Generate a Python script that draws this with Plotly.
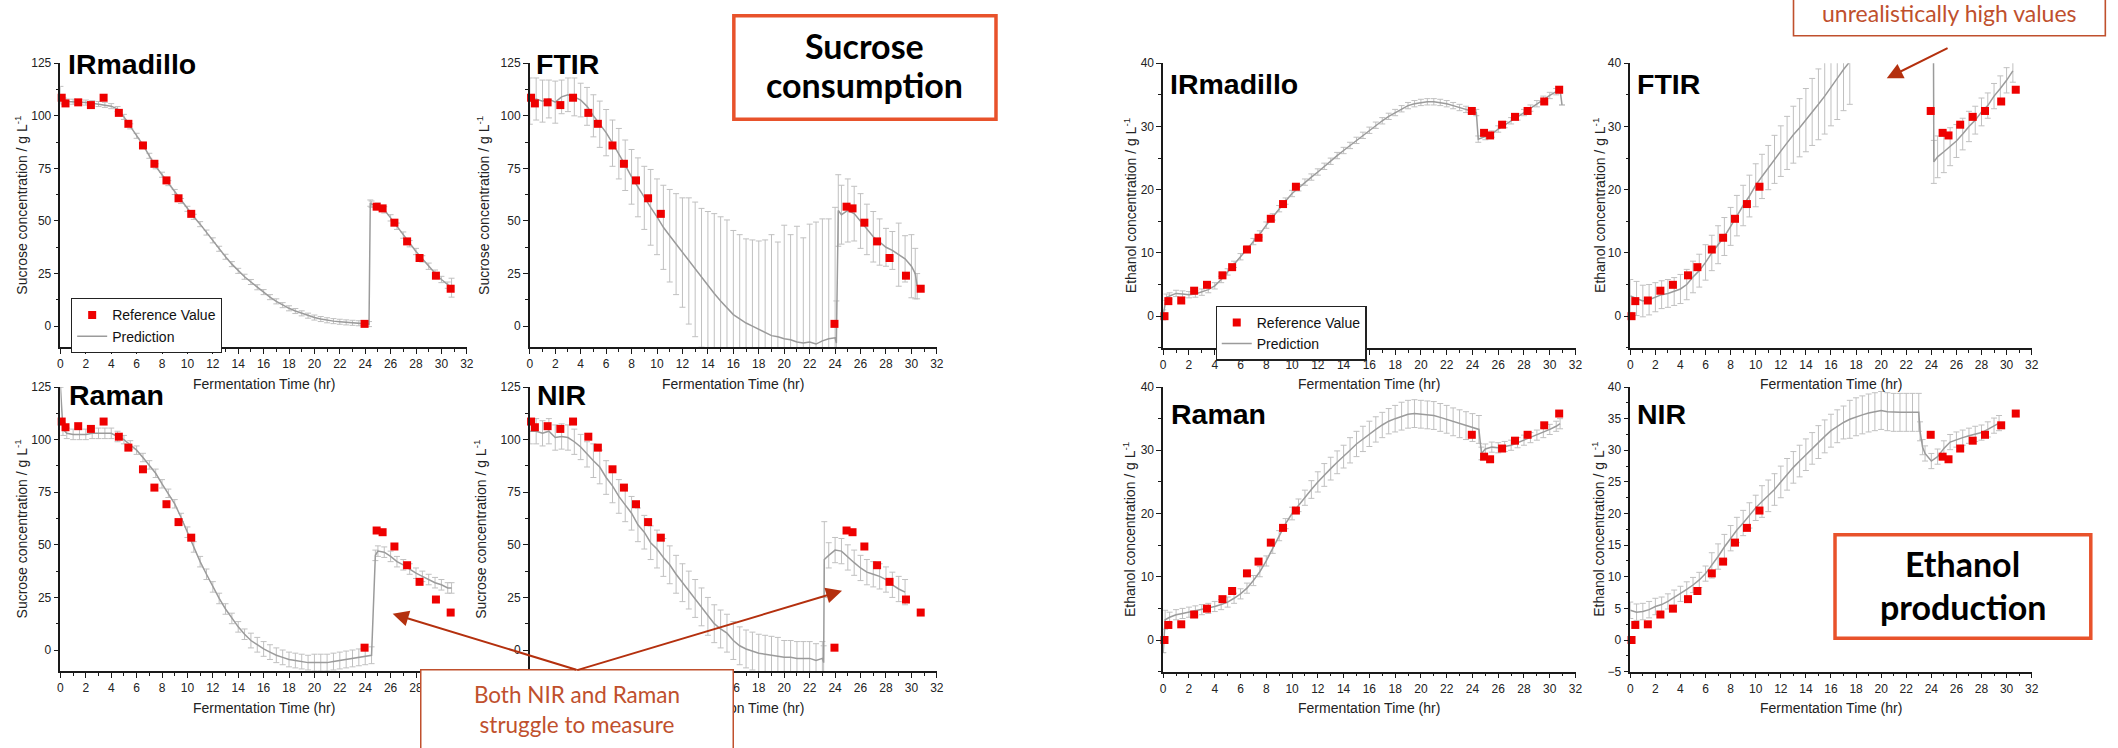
import plotly.graph_objects as go

# ---------------- data ----------------
ref_time = [0.1, 0.4, 1.4, 2.4, 3.4, 4.6, 5.35, 6.5, 7.4, 8.35, 9.3, 10.3,
            23.95, 24.9, 25.37, 26.3, 27.3, 28.28, 29.57, 30.73]
ref_sucrose = [108.6, 105.9, 106.4, 105.1, 108.6, 101.4, 96.2, 85.9, 77.2, 69.3, 60.8, 53.4,
               1.1, 56.8, 56.0, 49.2, 40.3, 32.4, 24.0, 17.8]
ref_ethanol = [0.0, 2.38, 2.48, 4.03, 4.96, 6.46, 7.75, 10.54, 12.4, 15.4, 17.73, 20.47,
               32.45, 28.99, 28.58, 30.28, 31.52, 32.45, 33.95, 35.81]

x_ticks_all = [0, 2, 4, 6, 8, 10, 12, 14, 16, 18, 20, 22, 24, 26, 28, 30, 32]
x_ticks_visible_nir = [16, 18, 20, 22, 24, 26, 28, 30, 32]   # 0-14 are hidden by the callout box

# Sucrose - IRmadillo
suc_irm_t = [0, 0.25, 0.5, 1, 1.5, 2, 2.5, 3, 3.5, 4, 4.5, 5, 5.5, 6, 6.5, 7, 7.5, 8, 8.5, 9, 9.5,
             10, 10.5, 11, 11.5, 12, 12.5, 13, 13.5, 14, 14.5, 15, 15.5, 16, 16.5, 17, 17.5, 18,
             18.5, 19, 19.5, 20, 20.5, 21, 21.5, 22, 22.5, 23, 23.5, 24, 24.3, 24.4, 24.5, 25,
             25.5, 26, 26.5, 27, 27.5, 28, 28.5, 29, 29.5, 30, 30.5, 30.8]
suc_irm_y = [110, 107, 106.8, 106.7, 106.5, 106.3, 106, 105.6, 105.2, 104.6, 103.2, 99.5, 95, 90.5,
             86.2, 81, 76, 72, 68, 63.8, 59.5, 55.8, 52, 48.5, 44.5, 40.8, 36.8, 33, 29.5, 26.3,
             23.5, 21, 18.5, 16.2, 13.8, 11.8, 10, 8.5, 7.2, 6.1, 5, 4.1, 3.4, 2.8, 2.4, 2.1, 1.8,
             1.6, 1.4, 1.2, 1.0, 58.5, 58, 57, 55.3, 51.5, 47.5, 43.3, 39.2, 35.5, 32.0, 28.5,
             25.2, 22.2, 19.5, 18.3]
suc_irm_e = [4, 1.5, 1.2, 1.2, 1.2, 1.2, 1.2, 1.2, 1.2, 1.2, 1.2, 1.2, 1.2, 1.2, 1.2, 1.2, 1.2,
             1.2, 1.2, 1.2, 1.2, 1.2, 1.2, 1.2, 1.2, 1.2, 1.2, 1.2, 1.2, 1.2, 1.2, 1.2, 1.2, 1.2,
             1.2, 1.2, 1.2, 1.2, 1.2, 1.2, 1.2, 1.2, 1.2, 1.2, 1.2, 1.2, 1.2, 1.2, 1.2, 1.2, 1.2,
             1.5, 1.5, 1.5, 1.5, 1.5, 1.5, 1.5, 1.5, 1.5, 1.5, 1.5, 1.5, 1.5, 1.5, 4.5]

# Sucrose - FTIR
suc_ftir_t = [0, 0.5, 1, 1.5, 2, 2.5, 3, 3.5, 4, 4.5, 5, 5.5, 6, 6.5, 7, 7.5, 8, 8.5, 9, 9.5,
              10, 10.5, 11, 11.5, 12, 12.5, 13, 13.5, 14, 14.5, 15, 15.5, 16, 16.5, 17, 17.5, 18,
              18.5, 19, 19.5, 20, 20.5, 21, 21.5, 22, 22.5, 23, 23.5, 24, 24.1, 24.25, 24.5, 25,
              25.5, 26, 26.5, 27, 27.5, 28, 28.5, 29, 29.5, 30, 30.3, 30.45]
suc_ftir_y = [107, 108, 107, 108, 106.5, 109, 110, 109, 107.5, 104.5, 100, 96, 92, 87, 82, 76.5,
              71, 66, 61, 56.5, 52, 47, 43, 39, 35, 31, 27, 23, 19.5, 15.5, 12, 8.5, 5.5, 3.5,
              1.5, 0, -1.5, -3, -4.5, -5, -6, -6.5, -7.5, -8, -7.5, -8.5, -7, -6, -5.5, -8, 55,
              53, 55, 53.5, 50, 46, 42.5, 40, 37.5, 36, 34, 32, 28.5, 25, 19]
suc_ftir_e = [11, 10, 10, 9, 10, 8, 8, 9, 8, 9, 10, 11, 11, 11, 12, 12, 13, 14, 15, 18,
              18, 20, 22, 24, 26, 30, 32, 33, 35, 38, 40, 42, 40, 40, 40, 41, 42, 44, 48, 45,
              54, 50, 55, 50, 56, 58, 58, 57, 62, 20, 17, 14, 15, 13, 13, 12, 12, 11, 9, 9,
              15, 11, 15, 12, 6]

# Sucrose - Raman
suc_ram_t = [0, 0.2, 0.5, 1, 1.5, 2, 2.5, 3, 3.5, 4, 4.5, 5, 5.5, 6, 6.5, 7, 7.5, 8, 8.5, 9,
             9.5, 10, 10.5, 11, 11.5, 12, 12.5, 13, 13.5, 14, 14.5, 15, 15.5, 16, 16.5, 17,
             17.5, 18, 18.5, 19, 19.5, 20, 20.5, 21, 21.5, 22, 22.5, 23, 23.5, 24, 24.5, 24.8,
             25, 25.5, 26, 26.5, 27, 27.5, 28, 28.5, 29, 29.5, 30, 30.5, 30.8]
suc_ram_y = [125, 105, 103, 102.5, 102.5, 102.5, 103, 103, 103, 103, 101.5, 100, 97.5, 95, 91.5,
             88, 84, 79, 74.5, 69.5, 63, 56, 49, 42, 36, 30, 24.5, 19.5, 15, 11, 7.5, 4.5, 2.5,
             0.5, -1, -2.5, -3.5, -4.5, -5, -5.5, -6, -6, -6, -6, -5.5, -5, -4.5, -4, -3.5, -3,
             -2.5, 45, 47, 46.5, 44.5, 42, 40.5, 38.5, 36.5, 35, 33.5, 32, 31, 29.5, 29.5]
suc_ram_e = [0, 3, 2.5, 2.5, 2.5, 2.5, 2.5, 2.5, 2.5, 2.5, 2.5, 2, 2, 2, 2, 2, 2, 2, 2, 2, 2,
             2.5, 2.5, 2.5, 2.5, 2.5, 2.5, 2.5, 2.5, 2.5, 2.5, 3.5, 3.5, 3.5, 3.5, 3.5, 3.5, 3.5,
             3.5, 3.5, 3.5, 4, 4, 4, 4, 4, 4, 4, 4, 4, 4, 2.5, 2.5, 2.5, 2.5, 2.5, 2.5, 2.5, 2.5,
             2.5, 2.5, 2.5, 2.5, 2.5, 2.5]

# Sucrose - NIR
suc_nir_t = [0, 0.5, 1, 1.5, 2, 2.5, 3, 3.5, 4, 4.5, 5, 5.5, 6, 6.5, 7, 7.5, 8, 8.5, 9, 9.5,
             10, 10.5, 11, 11.5, 12, 12.5, 13, 13.5, 14, 14.5, 15, 15.5, 16, 16.5, 17, 17.5, 18,
             18.5, 19, 19.5, 20, 20.5, 21, 21.5, 22, 22.5, 23, 23.1, 23.15, 23.5, 24, 24.5, 25,
             25.5, 26, 26.5, 27, 27.5, 28, 28.5, 29, 29.5]
suc_nir_y = [104, 104, 103, 104, 101, 101.5, 101, 99, 96.5, 93, 90, 87, 82, 78, 73, 69, 65,
             59.5, 56, 51, 48, 44, 40.5, 36, 32, 28.5, 24.5, 20.5, 16, 12.5, 10, 8, 4.5, 2, 0.5,
             -0.5, -1.5, -2, -2.5, -3, -3.5, -3.5, -4, -4, -4, -5, -4, -6, 43, 45, 47.5, 47, 44,
             41.5, 39, 37, 36, 35, 33.5, 31, 29, 27.5]
suc_nir_e = [6, 6, 6, 6, 6, 6, 6, 6, 6, 6, 8, 8, 8, 8, 8, 8, 8, 8, 8, 8, 9, 9, 9, 9, 9, 9, 9,
             9, 9, 9, 9, 9, 9, 9, 9, 9, 9, 9, 9, 9, 8, 8, 8, 8, 8, 8, 8, 8, 18, 6, 6, 6, 6, 6,
             6, 6, 6, 6, 6, 6, 6, 6]

# Ethanol - IRmadillo
eth_irm_t = [0, 0.25, 0.5, 1, 1.5, 2, 2.5, 3, 3.5, 4, 4.5, 5, 5.5, 6, 6.5, 7, 7.5, 8, 8.5, 9,
             9.5, 10, 10.5, 11, 11.5, 12, 12.5, 13, 13.5, 14, 14.5, 15, 15.5, 16, 16.5, 17,
             17.5, 18, 18.5, 19, 19.5, 20, 20.5, 21, 21.5, 22, 22.5, 23, 23.5, 24, 24.3, 24.45,
             25, 25.5, 26, 26.5, 27, 27.5, 28, 28.5, 29, 29.5, 30, 30.5, 30.8, 30.95]
eth_irm_y = [0.2, 3.0, 3.2, 3.6, 3.5, 3.4, 3.5, 3.8, 4.2, 4.8, 5.8, 7.0, 8.2, 9.4, 10.6, 11.8,
             13.0, 14.4, 15.7, 17.0, 18.2, 19.4, 20.3, 21.2, 22.0, 22.8, 23.7, 24.5, 25.4, 26.2,
             27.0, 27.8, 28.6, 29.4, 30.2, 30.9, 31.6, 32.2, 32.8, 33.3, 33.6, 33.8, 33.9, 33.9,
             33.8, 33.6, 33.3, 33.0, 32.7, 32.5, 32.2, 28.0, 28.4, 28.8, 29.6, 30.3, 30.9, 31.5,
             32.2, 32.9, 33.6, 34.3, 34.9, 35.5, 35.8, 33.4]
eth_irm_e = [0.8, 0.5, 0.5, 0.5, 0.5, 0.5, 0.5, 0.5, 0.5, 0.5, 0.5, 0.5, 0.5, 0.5, 0.5, 0.5,
             0.5, 0.5, 0.5, 0.5, 0.5, 0.5, 0.5, 0.5, 0.5, 0.5, 0.5, 0.5, 0.5, 0.5, 0.5, 0.5,
             0.5, 0.5, 0.5, 0.5, 0.5, 0.5, 0.5, 0.5, 0.5, 0.5, 0.5, 0.5, 0.5, 0.5, 0.5, 0.5,
             0.5, 0.5, 0.5, 0.5, 0.5, 0.5, 0.5, 0.5, 0.5, 0.5, 0.5, 0.5, 0.5, 0.5, 0.5, 0.5,
             0.5, 0]

# Ethanol - FTIR
eth_ftir_t = [0, 0.5, 1, 1.5, 2, 2.5, 3, 3.5, 4, 4.5, 5, 5.5, 6, 6.5, 7, 7.5, 8, 8.5, 9, 9.5,
              10, 10.5, 11, 11.5, 12, 12.5, 13, 13.5, 14, 14.5, 15, 15.5, 16, 16.5, 17, 17.5,
              18, 18.5, 19, 19.5, 20, 20.5, 21, 21.5, 22, 22.5, 23, 23.5, 24, 24.15, 24.2, 24.5,
              25, 25.5, 26, 26.5, 27, 27.5, 28, 28.5, 29, 29.5, 30, 30.5]
eth_ftir_y = [3.2, 2.8, 2.4, 2.6, 3.0, 3.4, 3.6, 3.9, 4.3, 5.0, 6.2, 7.2, 8.5, 10.0, 11.3, 12.6,
              14.2, 15.9, 17.5, 19.0, 20.7, 22.1, 23.5, 24.8, 26.1, 27.4, 28.7, 29.8, 31.0, 32.3,
              33.5, 34.8, 36.3, 37.6, 39.0, 40.3, 41.5, 42.7, 44.0, 45.0, 46.0, 47.0, 48.0, 49.0,
              50.0, 51.0, 52.0, 53.0, 54.0, 54.5, 24.4, 25.2, 26.0, 26.8, 27.7, 28.8, 30.0, 31.0,
              32.3, 33.3, 34.8, 36.0, 37.3, 38.8]
eth_ftir_e = [2.6, 2.7, 2.5, 2.4, 2.3, 2.2, 2.2, 2.2, 2.3, 2.4, 2.5, 2.6, 2.8, 2.8, 3.0, 3.0,
              3.0, 3.2, 3.2, 3.3, 3.4, 3.5, 3.5, 3.8, 4.0, 4.2, 4.5, 4.6, 5.0, 5.3, 5.6, 6.0,
              6.2, 6.5, 6.5, 6.8, 1.0, 1.0, 1.0, 1.0, 1.0, 1.0, 1.0, 1.0, 1.0, 1.0, 1.0, 1.0,
              1.0, 1.0, 3.4, 3.3, 3.3, 3.0, 2.6, 2.5, 2.4, 2.2, 2.2, 2.0, 2.0, 2.0, 2.0, 1.8]

# Ethanol - Raman
eth_ram_t = [0, 0.15, 0.5, 1, 1.5, 2, 2.5, 3, 3.5, 4, 4.5, 5, 5.5, 6, 6.5, 7, 7.5, 8, 8.5, 9,
             9.5, 10, 10.5, 11, 11.5, 12, 12.5, 13, 13.5, 14, 14.5, 15, 15.5, 16, 16.5, 17,
             17.5, 18, 18.5, 19, 19.5, 20, 20.5, 21, 21.5, 22, 22.5, 23, 23.5, 24, 24.5, 24.7,
             25, 25.5, 26, 26.5, 27, 27.5, 28, 28.5, 29, 29.5, 30, 30.5, 30.8]
eth_ram_y = [-2.0, 3.2, 3.6, 4.0, 4.2, 4.4, 4.6, 4.8, 5.0, 5.3, 5.6, 6.0, 6.6, 7.3, 8.2, 9.4,
             10.8, 12.5, 14.5, 16.5, 18.4, 20.0, 21.3, 22.5, 23.8, 25.0, 26.1, 27.1, 28.1, 29.0,
             30.0, 31.0, 31.8, 32.6, 33.3, 34.0, 34.6, 35.0, 35.4, 35.7, 35.8, 35.7, 35.6, 35.5,
             35.2, 34.9, 34.5, 34.2, 33.9, 33.6, 33.3, 29.5, 30.2, 30.5, 30.4, 30.6, 30.8, 31.2,
             31.6, 32.0, 32.4, 32.8, 33.3, 33.8, 34.2]
eth_ram_e = [0, 1.5, 0.8, 0.8, 0.8, 0.8, 0.8, 0.8, 0.8, 0.8, 0.8, 0.8, 0.8, 0.8, 0.8, 0.8, 0.8,
             0.8, 0.8, 0.8, 0.8, 1.0, 1.0, 1.2, 1.4, 1.6, 1.8, 1.8, 1.8, 1.8, 2.0, 2.0, 2.0, 2.0,
             2.0, 2.0, 2.0, 2.1, 2.2, 2.2, 2.2, 2.2, 2.2, 2.2, 2.2, 2.2, 2.2, 2.2, 2.2, 2.2, 2.2,
             1.0, 0.8, 0.8, 0.8, 0.8, 0.8, 0.8, 0.8, 0.8, 0.8, 0.8, 0.8, 0.8, 0.8]

# Ethanol - NIR
eth_nir_t = [0, 0.5, 1, 1.5, 2, 2.5, 3, 3.5, 4, 4.5, 5, 5.5, 6, 6.5, 7, 7.5, 8, 8.5, 9, 9.5,
             10, 10.5, 11, 11.5, 12, 12.5, 13, 13.5, 14, 14.5, 15, 15.5, 16, 16.5, 17, 17.5, 18,
             18.5, 19, 19.5, 20, 20.5, 21, 21.5, 22, 22.5, 23, 23.1, 23.3, 23.5, 24, 24.5, 25,
             25.5, 26, 26.5, 27, 27.5, 28, 28.5, 29, 29.4]
eth_nir_y = [4.7, 4.4, 4.5, 4.8, 5.3, 5.6, 6.1, 6.7, 7.3, 8.0, 8.7, 9.5, 10.5, 11.8, 13.2, 14.7,
             16.1, 17.4, 18.5, 19.7, 20.9, 21.9, 22.8, 23.8, 25.0, 26.2, 27.3, 28.3, 29.3, 30.3,
             31.3, 32.2, 33.1, 33.8, 34.4, 34.9, 35.3, 35.6, 35.9, 36.1, 36.3, 36.1, 36.0, 36.0,
             36.0, 36.0, 36.0, 33.0, 30.5, 29.5, 28.3, 29.0, 30.3, 31.3, 31.7, 32.0, 32.3, 32.6,
             32.8, 33.3, 33.9, 34.3]
eth_nir_e = [1.3, 1.3, 1.3, 1.3, 1.3, 1.2, 1.2, 1.2, 1.2, 1.2, 1.2, 1.2, 1.2, 2.0, 2.0, 2.0,
             2.0, 2.0, 2.0, 2.0, 2.0, 2.5, 2.5, 2.5, 2.5, 2.5, 2.5, 2.5, 2.5, 2.5, 2.6, 2.6, 2.6,
             2.6, 2.6, 3.0, 3.0, 3.0, 3.0, 3.0, 3.0, 3.0, 3.0, 3.0, 3.0, 3.0, 3.0, 1.5, 1.2, 1.2,
             1.2, 1.2, 1.2, 1.2, 1.2, 1.2, 1.2, 1.2, 1.2, 1.2, 1.2, 1.2]

# ---------------- styling / layout helpers ----------------
W, H = 2118, 748


def fx(p):
    return p / W


def fy(p):
    return 1 - p / H


TXT = 'Liberation Sans'
CAL = 'Lato'
AXC = '#1a1a1a'
LINE_C = 'rgb(155,155,155)'
ERR_C = 'rgb(192,192,192)'
RED = 'rgb(238,0,0)'
NOTE_C = '#C0502D'
ARROW_C = '#B4300E'
BOX_C = '#E8522B'

SUC_TITLE = 'Sucrose concentration / g L<sup>-1</sup>'
ETH_TITLE = 'Ethanol concentration / g L<sup>-1</sup>'

panels = [
    dict(lab='IRmadillo', t=suc_irm_t, y=suc_irm_y, e=suc_irm_e, ref=ref_sucrose, kind='suc',
         box=(57.7, 466, 57.3, 346.7), tx=18.5, lp=(63, 58.4), leg='legend', xt=x_ticks_all),
    dict(lab='FTIR', t=suc_ftir_t, y=suc_ftir_y, e=suc_ftir_e, ref=ref_sucrose, kind='suc',
         box=(529.3, 938.3, 57.3, 346.7), tx=483, lp=(534, 58.4), leg=None, xt=x_ticks_all),
    dict(lab='Raman', t=suc_ram_t, y=suc_ram_y, e=suc_ram_e, ref=ref_sucrose, kind='suc',
         box=(57.7, 466, 387.3, 676.7), tx=18.5, lp=(64, 395.8), leg=None, xt=x_ticks_all),
    dict(lab='NIR', t=suc_nir_t, y=suc_nir_y, e=suc_nir_e, ref=ref_sucrose, kind='suc',
         box=(529.3, 938.3, 387.3, 676.7), tx=479, lp=(534.5, 395.8), leg=None,
         xt=x_ticks_visible_nir),
    dict(lab='IRmadillo', t=eth_irm_t, y=eth_irm_y, e=eth_irm_e, ref=ref_ethanol, kind='eth',
         box=(1165.7, 1580, 57.3, 347.3), tx=1132, lp=(1171, 78.4), leg='legend2',
         xt=x_ticks_all),
    dict(lab='FTIR', t=eth_ftir_t, y=eth_ftir_y, e=eth_ftir_e, ref=ref_ethanol, kind='eth',
         box=(1635, 2038.3, 57.3, 347.3), tx=1603, lp=(1640, 78.4), leg=None, xt=x_ticks_all),
    dict(lab='Raman', t=eth_ram_t, y=eth_ram_y, e=eth_ram_e, ref=ref_ethanol, kind='eth',
         box=(1165.7, 1580, 387.3, 677.3), tx=1132, lp=(1172, 415.1), leg=None,
         xt=x_ticks_all),
    dict(lab='NIR', t=eth_nir_t, y=eth_nir_y, e=eth_nir_e, ref=ref_ethanol, kind='eth5',
         box=(1635, 2038.3, 387.3, 677.3), tx=1603, lp=(1640, 415.1), leg=None,
         xt=x_ticks_all),
]

fig = go.Figure()
layout = dict(
    width=W, height=H, autosize=False,
    margin=dict(l=0, r=0, t=0, b=0, pad=0),
    paper_bgcolor='white', plot_bgcolor='white',
    font=dict(family=TXT, size=12, color='#222'),
)
annotations = []
shapes = []

tickfont = dict(family=TXT, size=12, color='#222')

for i, p in enumerate(panels, start=1):
    x0, x1, y0, y1 = p['box']
    xa = 'x' if i == 1 else f'x{i}'
    ya = 'y' if i == 1 else f'y{i}'
    xkey = 'xaxis' if i == 1 else f'xaxis{i}'
    ykey = 'yaxis' if i == 1 else f'yaxis{i}'

    common = dict(showline=True, linecolor=AXC, linewidth=1.5, ticks='outside', ticklen=5,
                  tickwidth=1.2, tickcolor=AXC, showgrid=False, zeroline=False,
                  tickfont=tickfont, fixedrange=True)
    layout[xkey] = dict(domain=[fx(x0), fx(x1)], range=[0, 32], tickmode='array',
                        tickvals=p['xt'], anchor=ya,
                        minor=dict(tick0=0, dtick=1, ticks='outside', ticklen=3,
                                   tickcolor=AXC, tickwidth=1, showgrid=False),
                        **common)
    if p['kind'] == 'suc':
        yr, dt, mdt = [-10, 125], 25, 12.5
    elif p['kind'] == 'eth':
        yr, dt, mdt = [-5, 40], 10, 5
    else:
        yr, dt, mdt = [-5, 40], 5, 2.5
    layout[ykey] = dict(domain=[fy(y1), fy(y0)], range=yr, tick0=0, dtick=dt, anchor=xa,
                        minor=dict(tick0=0, dtick=mdt, ticks='outside', ticklen=3,
                                   tickcolor=AXC, tickwidth=1, showgrid=False),
                        **common)

    show = p['leg'] is not None
    pred = dict(x=p['t'], y=p['y'], mode='lines', name='Prediction', xaxis=xa, yaxis=ya,
                line=dict(color=LINE_C, width=1.5),
                error_y=dict(type='data', array=p['e'], visible=True, color=ERR_C,
                             thickness=1, width=3),
                showlegend=show, legendrank=2)
    refd = dict(x=ref_time, y=p['ref'], mode='markers', name='Reference Value',
                xaxis=xa, yaxis=ya, cliponaxis=False,
                marker=dict(symbol='square', size=8, color=RED, line=dict(width=0)),
                showlegend=show, legendrank=1)
    if show:
        pred['legend'] = p['leg']
        refd['legend'] = p['leg']
    fig.add_trace(go.Scatter(**pred))
    fig.add_trace(go.Scatter(**refd))

    # axis titles (as text annotations, positioned like the reference)
    ytitle = SUC_TITLE if p['kind'] == 'suc' else ETH_TITLE
    annotations.append(dict(text=ytitle, x=fx(p['tx']), y=fy((y0 + y1) / 2),
                            xref='paper', yref='paper', textangle=-90, showarrow=False,
                            xanchor='center', yanchor='middle',
                            font=dict(family=TXT, size=14, color='#222')))
    annotations.append(dict(text='Fermentation Time (hr)', x=fx((x0 + x1) / 2),
                            y=fy(384.7 if y0 < 200 else 714.0),
                            xref='paper', yref='paper', showarrow=False,
                            xanchor='center', yanchor='middle',
                            font=dict(family=TXT, size=14, color='#222')))
    # panel label
    annotations.append(dict(text=f"<b>{p['lab']}</b>", x=fx(p['lp'][0]), y=fy(p['lp'][1]),
                            xref='paper', yref='paper', showarrow=False,
                            xanchor='left', yanchor='middle',
                            font=dict(family=TXT, size=28.5, color='black')))

legend_common = dict(xanchor='left', yanchor='top', bordercolor='#222', borderwidth=1.2,
                     bgcolor='white', font=dict(family=TXT, size=14, color='#111'),
                     tracegroupgap=0, itemwidth=30, traceorder='normal')
layout['legend'] = dict(x=fx(68.3), y=fy(296.7), **legend_common)
layout['legend2'] = dict(x=fx(1218.3), y=fy(304.3), **legend_common)

# ---------------- callout boxes ----------------
# "Sucrose consumption"
shapes.append(dict(type='rect', xref='paper', yref='paper', x0=fx(734.3), x1=fx(997.7),
                   y0=fy(114.3), y1=fy(9), line=dict(color=BOX_C, width=3.5),
                   fillcolor='rgba(255,255,255,0)', layer='above'))
annotations.append(dict(text='<b>Sucrose</b>', x=fx(866), y=fy(39.5), xref='paper',
                        yref='paper', showarrow=False, xanchor='center', yanchor='middle',
                        font=dict(family=CAL, size=34, color='black')))
annotations.append(dict(text='<b>consumption</b>', x=fx(866), y=fy(79.3), xref='paper',
                        yref='paper', showarrow=False, xanchor='center', yanchor='middle',
                        font=dict(family=CAL, size=34, color='black')))
# "Ethanol production"
shapes.append(dict(type='rect', xref='paper', yref='paper', x0=fx(1840.7), x1=fx(2097.7),
                   y0=fy(643.3), y1=fy(537.7), line=dict(color=BOX_C, width=3.5),
                   fillcolor='white', layer='above'))
annotations.append(dict(text='<b>Ethanol</b>', x=fx(1969.2), y=fy(566.8), xref='paper',
                        yref='paper', showarrow=False, xanchor='center', yanchor='middle',
                        font=dict(family=CAL, size=34, color='black')))
annotations.append(dict(text='<b>production</b>', x=fx(1969.2), y=fy(610.8), xref='paper',
                        yref='paper', showarrow=False, xanchor='center', yanchor='middle',
                        font=dict(family=CAL, size=34, color='black')))
# "unrealistically high values" (box runs off the top edge)
shapes.append(dict(type='rect', xref='paper', yref='paper', x0=fx(1799), x1=fx(2112.3),
                   y0=fy(29.3), y1=fy(-40), line=dict(color=NOTE_C, width=1.6),
                   fillcolor='white', layer='above'))
annotations.append(dict(text='unrealistically high values', x=fx(1956), y=fy(6.3),
                        xref='paper', yref='paper', showarrow=False, xanchor='center',
                        yanchor='middle', font=dict(family=CAL, size=23, color=NOTE_C)))
annotations.append(dict(text='', x=fx(1892.7), y=fy(72.7), xref='paper', yref='paper',
                        showarrow=True, ax=62.3, ay=-31, arrowhead=2, arrowsize=1.6,
                        arrowwidth=2, arrowcolor=ARROW_C, standoff=0))
# "Both NIR and Raman struggle to measure" (box runs off the bottom edge)
annotations.append(dict(text='Both NIR and Raman<br>struggle to measure',
                        x=fx(419), y=fy(674.7), xref='paper', yref='paper', showarrow=False,
                        xanchor='left', yanchor='top', width=311, height=78,
                        align='center', valign='middle', bgcolor='white',
                        bordercolor=NOTE_C, borderwidth=1.5, borderpad=0,
                        font=dict(family=CAL, size=22.5, color=NOTE_C)))
annotations.append(dict(text='', x=fx(391.5), y=fy(618.3), xref='paper', yref='paper',
                        showarrow=True, ax=576.7 - 391.5, ay=674.7 - 618.3, arrowhead=2,
                        arrowsize=1.6, arrowwidth=2, arrowcolor=ARROW_C, standoff=0))
annotations.append(dict(text='', x=fx(843), y=fy(595), xref='paper', yref='paper',
                        showarrow=True, ax=576.7 - 843, ay=674.7 - 595, arrowhead=2,
                        arrowsize=1.6, arrowwidth=2, arrowcolor=ARROW_C, standoff=0))

layout['annotations'] = annotations
layout['shapes'] = shapes
fig.update_layout(**layout)

fig.write_html('out.html')
